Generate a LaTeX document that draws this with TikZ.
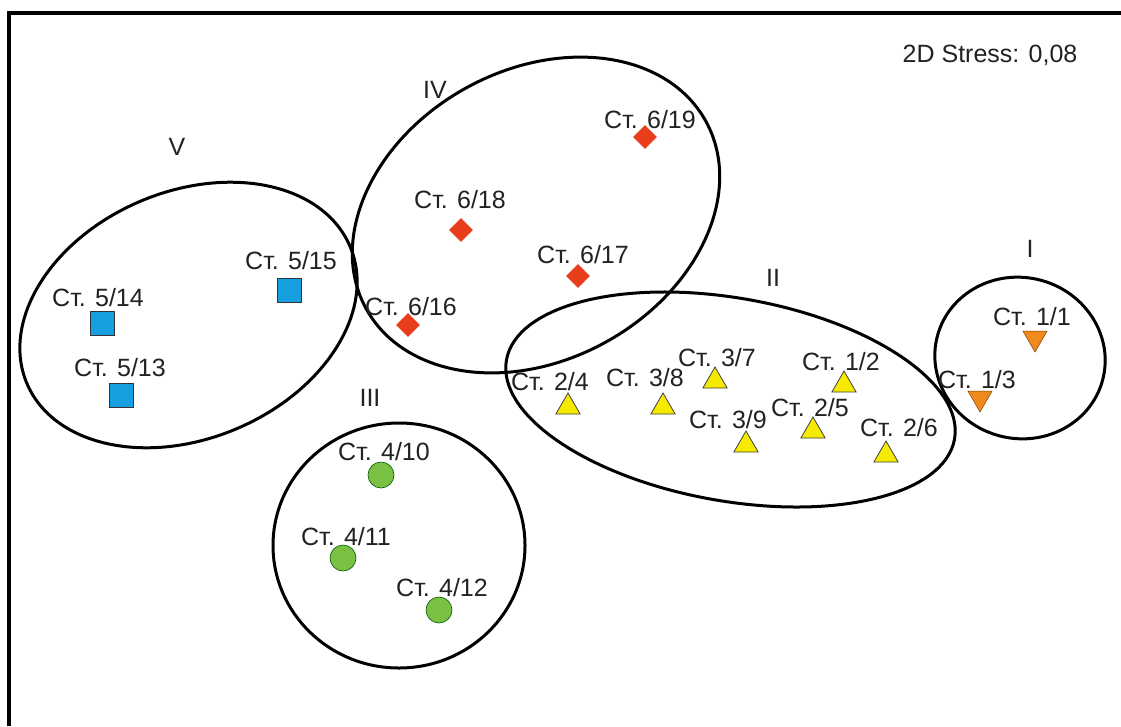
\documentclass[tikz,border=0pt]{standalone}
\usepackage{fontspec}
\setmainfont{Liberation Sans}
\usetikzlibrary{shapes.geometric}
\definecolor{ptblue}{RGB}{22,160,226}
\definecolor{ptred}{RGB}{232,62,28}
\definecolor{ptgreen}{RGB}{122,192,66}
\definecolor{ptyellow}{RGB}{246,234,0}
\definecolor{ptorange}{RGB}{240,138,28}
\definecolor{txtcol}{RGB}{34,34,34}
\tikzset{
  lbl/.style={font=\fontsize{25}{30}\selectfont, text=txtcol, inner sep=0pt},
  sq/.style={rectangle, draw=black!80, line width=0.8pt, fill=ptblue, minimum size=24pt, inner sep=0pt},
  dia/.style={diamond, fill=ptred, minimum size=24pt, inner sep=0pt},
  dot/.style={circle, fill=ptgreen, draw=green!35!black, line width=0.6pt, minimum width=26pt, minimum height=24pt, inner sep=0pt},
  tri/.style={regular polygon, regular polygon sides=3, fill=ptyellow, draw=black!75, line width=0.8pt, minimum size=28pt, inner sep=0pt},
  dtri/.style={regular polygon, regular polygon sides=3, shape border rotate=180, fill=ptorange, draw=orange!50!black, line width=0.5pt, minimum size=28pt, inner sep=0pt},
  clus/.style={ellipse, draw=black, line width=3pt, inner sep=0pt},
}
\begin{document}
\begin{tikzpicture}[x=1pt,y=1pt]
\useasboundingbox (0,0) rectangle (1121,-726);
\fill[white] (0,0) rectangle (1121,-726);
% frame
\draw[line width=4pt] (9,-726) -- (9,-13) -- (1121,-13);
% clusters
\node[clus, minimum width=351pt, minimum height=247pt, rotate=23] (clV) at (188.5,-315) {};
\node[clus, minimum width=388pt, minimum height=290pt, rotate=29] (clIV) at (536,-215) {};
\node[clus, minimum width=455pt, minimum height=203pt, rotate=-10] (clII) at (730.5,-399.5) {};
\node[clus, minimum width=171pt, minimum height=161pt, rotate=-15] (clI) at (1020,-358) {};
\node[clus, minimum width=252pt, minimum height=245pt] (clIII) at (399,-545.5) {};
% cluster numerals
\node[lbl] (nV) at (177,-147) {V};
\node[lbl] (nIV) at (435,-90) {IV};
\node[lbl] (nIII) at (370,-398) {III};
\node[lbl] (nII) at (773,-278) {II};
\node[lbl] (nI) at (1030,-249) {I};
% stress
\node[lbl] (stress) at (990,-55) {2D Stress: 0,08};
% group V
\node[sq] (p515) at (289,-290) {};
\node[sq] (p514) at (102,-323) {};
\node[sq] (p513) at (121,-395) {};
\node[lbl] (l515) at (291,-261) {Ст. 5/15};
\node[lbl] (l514) at (98,-298) {Ст. 5/14};
\node[lbl] (l513) at (120,-368) {Ст. 5/13};
% group IV
\node[dia] (p619) at (645,-137) {};
\node[dia] (p618) at (461,-230) {};
\node[dia] (p617) at (578,-276) {};
\node[dia] (p616) at (408,-325) {};
\node[lbl] (l619) at (650,-120) {Ст. 6/19};
\node[lbl] (l618) at (460,-200) {Ст. 6/18};
\node[lbl] (l617) at (583,-255) {Ст. 6/17};
\node[lbl] (l616) at (411,-307) {Ст. 6/16};
% group III
\node[dot] (p410) at (381,-475) {};
\node[dot] (p411) at (343,-558) {};
\node[dot] (p412) at (439,-610) {};
\node[lbl] (l410) at (384,-452) {Ст. 4/10};
\node[lbl] (l411) at (346,-537) {Ст. 4/11};
\node[lbl] (l412) at (442,-588) {Ст. 4/12};
% group II
\node[tri] (p24) at (568,-407) {};
\node[tri] (p38) at (663,-407) {};
\node[tri] (p37) at (715,-381) {};
\node[tri] (p12) at (844,-385) {};
\node[tri] (p39) at (746,-445) {};
\node[tri] (p25) at (813,-431) {};
\node[tri] (p26) at (886,-455) {};
\node[lbl] (l24) at (550,-382) {Ст. 2/4};
\node[lbl] (l38) at (645,-378) {Ст. 3/8};
\node[lbl] (l37) at (717,-358) {Ст. 3/7};
\node[lbl] (l12) at (841,-362) {Ст. 1/2};
\node[lbl] (l39) at (728,-420) {Ст. 3/9};
\node[lbl] (l25) at (810,-408) {Ст. 2/5};
\node[lbl] (l26) at (899,-428) {Ст. 2/6};
% group I
\node[dtri] (p11) at (1035,-338) {};
\node[dtri] (p13) at (980,-398) {};
\node[lbl] (l11) at (1032,-317) {Ст. 1/1};
\node[lbl] (l13) at (977,-380) {Ст. 1/3};
\end{tikzpicture}
\end{document}
